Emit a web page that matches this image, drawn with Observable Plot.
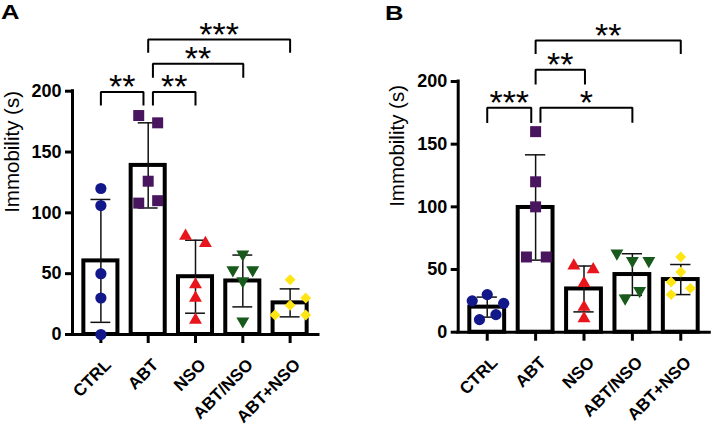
<!DOCTYPE html>
<html>
<head>
<meta charset="utf-8">
<script src="https://cdn.jsdelivr.net/npm/d3@7"></script>
<script src="https://cdn.jsdelivr.net/npm/@observablehq/plot@0.6"></script>
<style>
  html, body { margin: 0; padding: 0; background: #fff; }
  #wrap { position: relative; width: 712px; height: 426px; overflow: hidden; font-family: "Liberation Sans", Arial, sans-serif; }
  .panel { position: absolute; top: 0; }
  .letter { position: absolute; font-weight: bold; font-size: 21px; line-height: 1; transform: scaleX(1.22); transform-origin: left top; }
</style>
</head>
<body>
<div id="wrap">
  <div id="pa" class="panel" style="left:0"></div>
  <div id="pb" class="panel" style="left:356px"></div>
  <div class="letter" style="left:1px;top:1px">A</div>
  <div class="letter" style="left:385px;top:2px">B</div>
</div>
<script>
// ---- data ----
const categories = ["CTRL", "ABT", "NSO", "ABT/NSO", "ABT+NSO"];
const yTicks = [0, 50, 100, 150, 200];
const yLabel = "Immobility (s)";

// Panel A individual values per group
const valuesA = [
  [120, 106, 50, 30, 0],
  [180, 174, 126, 108, 110],
  [81, 75, 41, 30, 12],
  [66, 53, 53, 44, 11],
  [45, 30, 24, 16, 16]
];
const meanA = [60.5, 139, 47.5, 44, 26];
const sdA = [50.5, 35, 30, 21.3, 11.5];
// horizontal scatter of the points (in category units)
const jitterA = [
  [0, 0, 0, 0, 0],
  [-0.2, 0.2, 0, -0.2, 0.2],
  [-0.21, 0.21, 0, 0, 0],
  [0, -0.21, 0.21, 0, 0],
  [0, 0.33, 0, -0.32, 0.33]
];
// significance comparisons
const sigA = [
  {from: 0, to: 0.9, top: 199.3, foot: 188.2, label: "**"},
  {from: 1.1, to: 2, top: 199.3, foot: 188.2, label: "**"},
  {from: 1.1, to: 3.01, top: 222.5, foot: 211, label: "**"},
  {from: 1, to: 4, top: 242.5, foot: 231.6, label: "***"}
];

// Panel B
const valuesB = [
  [30, 25, 23, 14, 10],
  [160, 120, 100, 60, 60],
  [53, 50, 39, 20, 11],
  [63, 57, 57, 33, 27],
  [60, 48, 40, 35, 30]
];
const meanB = [20, 99.5, 34.5, 46, 42];
const sdB = [8, 42, 18.3, 16.6, 12];
const jitterB = [
  [0, -0.31, 0.34, 0.18, -0.16],
  [0, 0, 0, -0.19, 0.22],
  [-0.21, 0.19, 0, 0, 0],
  [-0.32, 0, 0.34, 0.15, -0.15],
  [0, 0, -0.2, 0.2, -0.2]
];
const sigB = [
  {from: 0, to: 0.91, top: 179, foot: 166.8, label: "***"},
  {from: 1.1, to: 3, top: 179, foot: 167, label: "*"},
  {from: 1, to: 2.02, top: 209.4, foot: 197.6, label: "**"},
  {from: 1, to: 4, top: 232.8, foot: 222, label: "**"}
];

// ---- styles ----
const colors = ["#12188a", "#4a155f", "#e8151c", "#175a1c", "#ffe514"];
const symbols = ["circle", "square", "triangle", "triangle", "diamond2"];
const rotations = [0, 0, 0, 180, 0];
const radii = [5.6, 6.2, 4.8, 4.8, 4.9];
const FONT = "Liberation Sans, Arial, sans-serif";

function panel(values, means, sds, jitter, sig, m) {
  const idx = categories.map((_, i) => i);
  const pts = values.flatMap((vals, g) => vals.map((v, k) => ({g, v, x: g + jitter[g][k]})));
  const caps = idx.flatMap(i => [{i, y: means[i] - sds[i]}, {i, y: means[i] + sds[i]}]);
  const brk = sig.flatMap((s, j) => [
    {j, x: s.from, y: s.foot}, {j, x: s.from, y: s.top},
    {j, x: s.to, y: s.top}, {j, x: s.to, y: s.foot}
  ]);
  const marks = [
    Plot.rect(idx, {x1: i => i - 0.36, x2: i => i + 0.36, y1: 0, y2: i => means[i],
      fill: "white", stroke: "black", strokeWidth: 4}),
    Plot.ruleX(idx, {x: i => i, y1: i => means[i] - sds[i], y2: i => means[i] + sds[i],
      stroke: "#111", strokeWidth: 1.5}),
    Plot.ruleY(caps, {y: "y", x1: d => d.i - 0.21, x2: d => d.i + 0.21, stroke: "#111", strokeWidth: 1.5}),
    Plot.ruleX([-0.6], {y1: 0, y2: 200, strokeWidth: 3, strokeLinecap: "square"}),
    Plot.ruleY([0], {x1: -0.6, x2: 4.6, strokeWidth: 3, strokeLinecap: "square"}),
    Plot.axisY({ticks: yTicks, tickSize: 7, strokeWidth: 3, tickFormat: () => "", label: null, anchor: "left"}),
    Plot.axisX({ticks: idx, tickSize: 9, strokeWidth: 3, tickFormat: () => "", label: null, anchor: "bottom"}),
    Plot.text(yTicks, {x: -0.6, y: d => d, text: d => String(d), textAnchor: "end", dx: -11,
      fontSize: 18, fontWeight: "bold", fill: "black"}),
    Plot.text(idx, {x: i => i, y: 0, text: i => categories[i], rotate: -45, textAnchor: "end",
      dx: 7.4, dy: 27.5, fontSize: 17, fontWeight: "bold", fill: "black"}),
    Plot.text([yLabel], {frameAnchor: "left", text: d => d, rotate: -90, dx: m.labelDx,
      fontSize: 20.5, fill: "black"}),
    Plot.line(brk, {x: "x", y: "y", z: "j", stroke: "black", strokeWidth: 2,
      strokeLinecap: "butt", strokeLinejoin: "miter"}),
    Plot.text(sig, {x: s => (s.from + s.to) / 2, y: "top", text: "label", fontSize: 34,
      dy: -4.5, fill: "black"})
  ];
  idx.forEach(g => {
    marks.push(Plot.dot(pts.filter(p => p.g === g), {x: "x", y: "v", symbol: () => symbols[g],
      r: radii[g], fill: colors[g], stroke: "none", rotate: rotations[g]}));
  });
  return Plot.plot({
    width: 356, height: 426,
    marginLeft: m.left, marginRight: m.right, marginTop: m.top, marginBottom: m.bottom,
    x: {domain: [-0.6, 4.6], axis: null},
    y: {domain: [0, 200], axis: null},
    symbol: {type: "identity"},
    style: {fontFamily: FONT, background: "white", overflow: "visible", color: "black"},
    marks
  });
}

document.getElementById("pa").append(panel(valuesA, meanA, sdA, jitterA, sigA,
  {left: 72, right: 38, top: 90.7, bottom: 92, labelDx: -60}));
document.getElementById("pb").append(panel(valuesB, meanB, sdB, jitterB, sigB,
  {left: 101.7, right: 2.7, top: 81, bottom: 94.3, labelDx: -61}));
</script>
</body>
</html>
